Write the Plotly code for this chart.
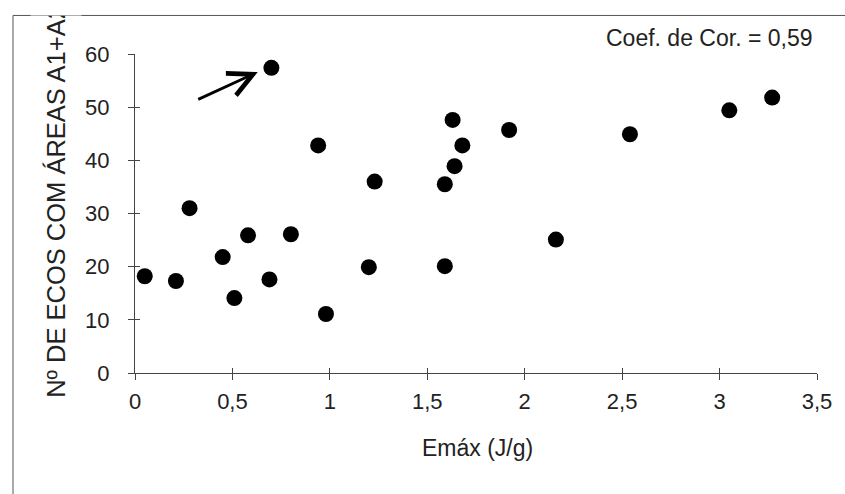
import plotly.graph_objects as go

# Data
emax = [0.05, 0.21, 0.28, 0.45, 0.51, 0.58, 0.69, 0.70, 0.80, 0.94, 0.98,
        1.20, 1.23, 1.59, 1.59, 1.63, 1.64, 1.68, 1.92, 2.16, 2.54, 3.05, 3.27]
n_ecos = [18.2, 17.3, 31.0, 21.8, 14.1, 25.9, 17.6, 57.4, 26.1, 42.8, 11.1,
          19.9, 36.0, 35.5, 20.1, 47.6, 38.9, 42.8, 45.7, 25.1, 44.9, 49.4, 51.8]

x_ticks = [0, 0.5, 1, 1.5, 2, 2.5, 3, 3.5]
x_tick_labels = ["0", "0,5", "1", "1,5", "2", "2,5", "3", "3,5"]
y_ticks = [0, 10, 20, 30, 40, 50, 60]
y_tick_labels = ["0", "10", "20", "30", "40", "50", "60"]

highlight_x, highlight_y = 0.63, 56.6  # arrow target (outlier point)

FONT = "Liberation Sans, Arial, sans-serif"
AX = "#444444"
TXT = "#222222"

W, H = 845, 494
L, R, T, B = 135, 28, 54, 121.3
pw, ph = W - L - R, H - T - B


def px_x(p):
    return (p - L) / pw


def px_y(p):
    return (H - B - p) / ph


fig = go.Figure()
fig.add_trace(go.Scatter(
    x=emax, y=n_ecos, mode="markers",
    marker=dict(size=16, color="black"),
    showlegend=False, hoverinfo="skip"))
# transparent copy on overlay axes (those axes give the inner half of the crossing ticks)
fig.add_trace(go.Scatter(x=emax, y=n_ecos, xaxis="x2", yaxis="y2",
                         mode="markers", marker=dict(size=1, opacity=0),
                         showlegend=False, hoverinfo="skip"))

axis_common = dict(showgrid=False, zeroline=False, showline=True,
                   linecolor=AX, linewidth=1, ticks="outside", ticklen=6,
                   tickcolor=AX, tickwidth=1,
                   tickfont=dict(family=FONT, size=22, color=TXT))
inner_common = dict(type="linear", showgrid=False, zeroline=False,
                    showline=False, ticks="inside", ticklen=5,
                    tickcolor=AX, tickwidth=1, showticklabels=False)

fig.update_layout(
    width=W, height=H,
    margin=dict(l=L, r=R, t=T, b=B),
    paper_bgcolor="white", plot_bgcolor="white",
    font=dict(family=FONT, color=TXT),
    xaxis=dict(range=[0, 3.5], tickvals=x_ticks, ticktext=x_tick_labels,
               ticklabelstandoff=3, **axis_common),
    yaxis=dict(range=[0, 60], tickvals=y_ticks, ticktext=y_tick_labels,
               ticklabelstandoff=14, **axis_common),
    xaxis2=dict(range=[0, 3.5], overlaying="x", anchor="y2", side="bottom",
                tickmode="array", tickvals=x_ticks, **inner_common),
    yaxis2=dict(range=[0, 60], overlaying="y", anchor="x2", side="left",
                tickmode="array", tickvals=y_ticks, **inner_common),
)

# outer frame (cropped box)
fig.add_shape(type="rect", xref="paper", yref="paper",
              x0=px_x(13), x1=px_x(850), y0=px_y(500), y1=px_y(15.5),
              line=dict(color="#555555", width=1), layer="below")

annotations = [
    dict(text="Emáx (J/g)", xref="paper", yref="paper",
         x=px_x(477), y=px_y(448), xanchor="center", yanchor="middle",
         showarrow=False, font=dict(family=FONT, size=23, color=TXT)),
    dict(text="Nº DE ECOS COM ÁREAS A1+A2", xref="paper", yref="paper",
         x=px_x(56), y=px_y(400), xanchor="center", yanchor="bottom",
         textangle=-90, showarrow=False,
         font=dict(family=FONT, size=25.5, color=TXT)),
    # mask to clip the y title at the frame
    dict(text=" ", xref="paper", yref="paper",
         x=px_x(56), y=px_y(0), xanchor="center", yanchor="top",
         width=50, height=14, bgcolor="white", borderpad=0,
         showarrow=False),
    dict(text="Coef. de Cor. = 0,59", xref="paper", yref="paper",
         x=px_x(709), y=px_y(38), xanchor="center", yanchor="middle",
         showarrow=False, font=dict(family=FONT, size=23, color=TXT)),
    dict(text="", x=highlight_x, y=highlight_y, xref="x", yref="y",
         showarrow=True, ax=-61, ay=28, arrowhead=5, arrowsize=1.7,
         arrowwidth=2.8, arrowcolor="black"),
]
fig.update_layout(annotations=annotations)

fig.write_html("out.html")
